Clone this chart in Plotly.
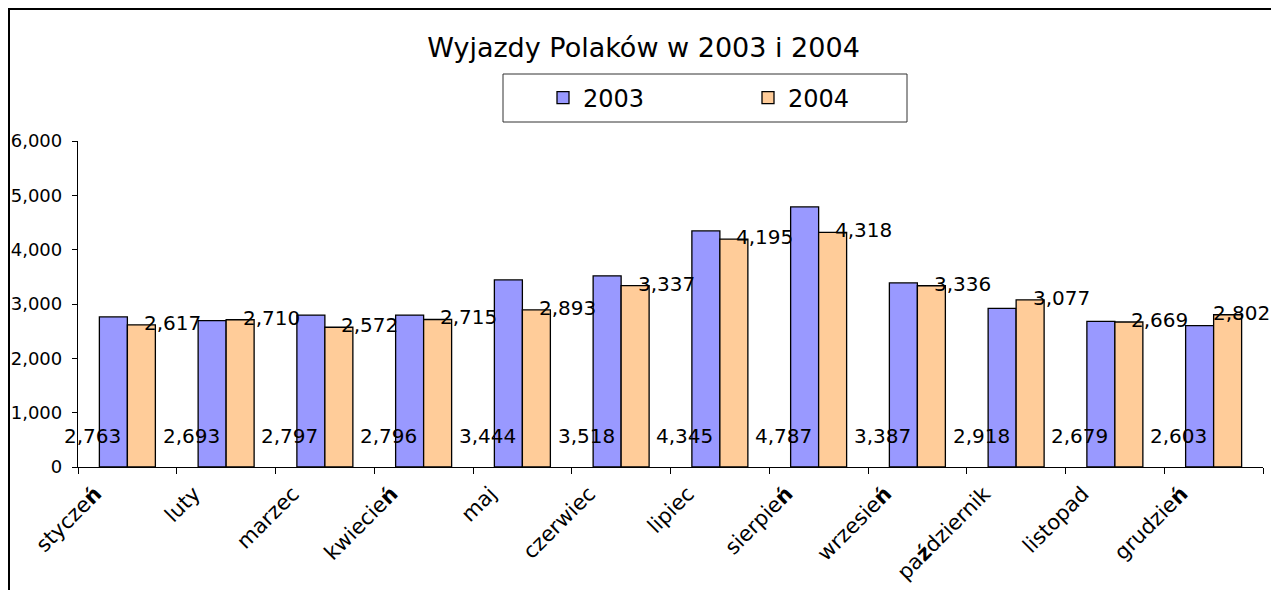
import plotly.graph_objects as go

months = ["styczeń", "luty", "marzec", "kwiecień", "maj", "czerwiec",
          "lipiec", "sierpień", "wrzesień", "październik", "listopad", "grudzień"]
values_2003 = [2763, 2693, 2797, 2796, 3444, 3518, 4345, 4787, 3387, 2918, 2679, 2603]
values_2004 = [2617, 2710, 2572, 2715, 2893, 3337, 4195, 4318, 3336, 3077, 2669, 2802]
y_ticks = [0, 1000, 2000, 3000, 4000, 5000, 6000]

FONT = "DejaVu Sans"
C2003 = "#9999FF"
C2004 = "#FFCC99"


def styled(name):
    out = name
    for ch in ("ń", "ź"):
        out = out.replace(ch, "<b>" + ch + "</b>")
    return out


# page has an 8px body margin: figure pixel = screen pixel - 8
OFF = 8
W, H = 1271, 582
L, T = 78 - OFF, 141 - OFF
R = W - (1263 - OFF)
B = H - (467 - OFF)
pw, ph = W - L - R, H - T - B
cat_w = pw / len(months)


def px_x(p):
    return (p - OFF - L) / pw


def px_y(p):
    return (H - B - (p - OFF)) / ph


fig = go.Figure()
fig.add_trace(go.Bar(name="2003", x=months, y=values_2003, marker_color=C2003,
                     marker_line=dict(color="black", width=1.3)))
fig.add_trace(go.Bar(name="2004", x=months, y=values_2004, marker_color=C2004,
                     marker_line=dict(color="black", width=1.3)))

LABEL_SIZE = 20
annotations = []
for m, v in zip(months, values_2003):
    annotations.append(dict(x=m, y=0, xref="x", yref="y", text=f"{v:,}", showarrow=False,
                            xshift=-35, yshift=31, font=dict(family=FONT, size=LABEL_SIZE, color="black")))
for i, (m, v) in enumerate(zip(months, values_2004)):
    text = f"{v:,}"
    half_w = 0.5 * LABEL_SIZE * (0.636 * (len(text) - 1) + 0.318)
    centre = L + (i + 0.5) * cat_w
    shift = min(45, (W - 9 - half_w) - centre)  # keep label inside the chart frame, as Excel does
    annotations.append(dict(x=m, y=v, xref="x", yref="y", text=text, showarrow=False,
                            xshift=shift, yshift=2, font=dict(family=FONT, size=LABEL_SIZE, color="black")))

shapes = [
    dict(type="rect", xref="paper", yref="paper", x0=px_x(9), x1=px_x(1273), y0=px_y(640), y1=px_y(9),
         line=dict(color="black", width=2), fillcolor="rgba(0,0,0,0)", layer="below"),
    dict(type="rect", xref="paper", yref="paper", x0=px_x(503), x1=px_x(907), y0=px_y(122), y1=px_y(74),
         line=dict(color="#333333", width=1), fillcolor="rgba(0,0,0,0)"),
]

fig.update_layout(
    width=W, height=H,
    margin=dict(l=L, r=R, t=T, b=B, pad=0, autoexpand=False),
    paper_bgcolor="white", plot_bgcolor="white",
    font=dict(family=FONT, color="black"),
    title=dict(text="Wyjazdy Polaków w 2003 i 2004", x=(643.5 - OFF) / W, xanchor="center",
               y=1 - (48 - OFF) / H, yanchor="middle", font=dict(family=FONT, size=27, color="black")),
    barmode="group", bargap=0.433, bargroupgap=0,
    showlegend=True,
    legend=dict(orientation="h", x=px_x(543), y=px_y(98), xanchor="left", yanchor="middle",
                bgcolor="rgba(0,0,0,0)", borderwidth=0, font=dict(family=FONT, size=24, color="black"),
                entrywidth=160, entrywidthmode="pixels"),
    annotations=annotations,
    shapes=shapes,
)

fig.update_yaxes(range=[0, 6000], tickvals=y_ticks, tickformat=",", showgrid=False, zeroline=False,
                 showline=True, linecolor="black", linewidth=1.3, ticks="outside", ticklen=5,
                 tickcolor="black", tickwidth=1.3, ticklabelstandoff=6, automargin=False,
                 tickfont=dict(family=FONT, size=18, color="black"))
fig.update_xaxes(range=[-0.5, len(months) - 0.5], autorange=False,
                 tickvals=months, ticktext=[styled(m) for m in months], tickangle=-45,
                 showgrid=False, showline=True, linecolor="black", linewidth=1.3,
                 ticks="outside", ticklen=6, tickcolor="black", tickwidth=1.3, tickson="boundaries",
                 ticklabelshift=-32, ticklabelstandoff=5, automargin=False,
                 tickfont=dict(family=FONT, size=21, color="black"))

fig.write_html("out.html")
